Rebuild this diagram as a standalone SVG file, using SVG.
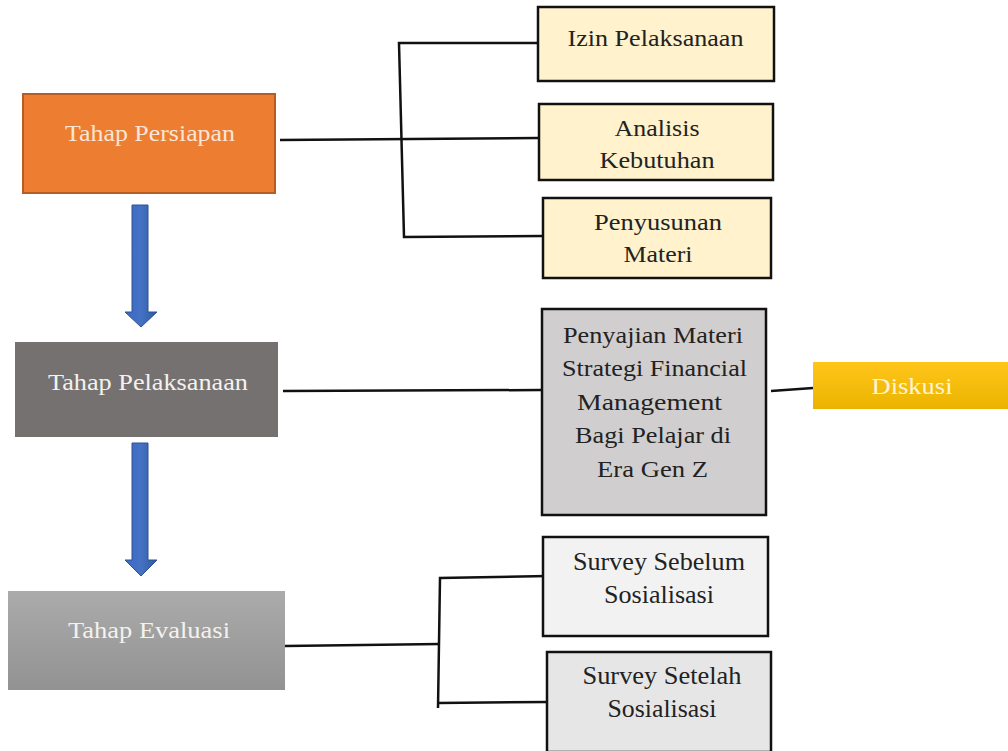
<svg xmlns="http://www.w3.org/2000/svg" width="1008" height="751" viewBox="0 0 1008 751">
<defs>
<style>
text{font-family:"Liberation Serif","Times New Roman",serif;text-anchor:middle}
.dk{font-size:23px;fill:#222}
.sv{font-size:25px;fill:#222}
.lt{font-size:23px;fill:#f4f1ee}
.box{stroke:#111;stroke-width:2.5}
.ln{stroke:#111;stroke-width:2.5;fill:none}
.arr{fill:url(#gArr);stroke:#2f528f;stroke-width:1}
</style>
<linearGradient id="gEval" x1="0" y1="0" x2="0" y2="1">
<stop offset="0" stop-color="#ababab"/><stop offset="1" stop-color="#929292"/>
</linearGradient>
<linearGradient id="gDisk" x1="0" y1="0" x2="0" y2="1">
<stop offset="0" stop-color="#ffc61a"/><stop offset="1" stop-color="#ebb300"/>
</linearGradient>
<linearGradient id="gArr" x1="0" y1="0" x2="1" y2="0">
<stop offset="0" stop-color="#3d69c6"/><stop offset="0.5" stop-color="#4472c4"/><stop offset="1" stop-color="#30589e"/>
</linearGradient>
</defs>
<rect width="1008" height="751" fill="#fff"/>
<g id="connectors">
<polyline class="ln" points="538,43 399,43 404,237 543,236"/>
<line class="ln" x1="280" y1="140" x2="538" y2="138"/>
<line class="ln" x1="283" y1="391" x2="541" y2="390"/>
<line class="ln" x1="771" y1="391" x2="813" y2="388"/>
<polyline class="ln" points="548,576 440,578 438,708"/>
<line class="ln" x1="285" y1="646" x2="440" y2="644"/>
<line class="ln" x1="438" y1="703" x2="548" y2="702"/>
<polygon id="arrow1" class="arr" points="132,205 148,205 148,312 157,312 141,327 125,312 132,312"/>
<polygon id="arrow2" class="arr" points="132,443 148,443 148,560 157,560 141,576 125,560 132,560"/>
</g>
<g id="persiapan">
<rect x="23" y="94" width="252" height="99" fill="#ed7d31" stroke="#b55d22" stroke-width="2"/>
<text class="lt" x="150" y="141" style="fill:#fbe5d6" textLength="170" lengthAdjust="spacingAndGlyphs">Tahap Persiapan</text>
</g>
<g id="pelaksanaan">
<rect x="15" y="342" width="263" height="95" fill="#767171"/>
<text class="lt" x="148" y="390" textLength="200" lengthAdjust="spacingAndGlyphs">Tahap Pelaksanaan</text>
</g>
<g id="evaluasi">
<rect x="8" y="591" width="277" height="99" fill="url(#gEval)"/>
<text class="lt" x="149" y="638" textLength="162" lengthAdjust="spacingAndGlyphs">Tahap Evaluasi</text>
</g>
<g id="izin">
<rect class="box" x="538" y="7" width="236" height="74" fill="#fff2cc"/>
<text class="dk" x="655.5" y="46" textLength="176" lengthAdjust="spacingAndGlyphs">Izin Pelaksanaan</text>
</g>
<g id="analisis">
<rect class="box" x="539" y="104" width="234" height="76" fill="#fff2cc"/>
<text class="dk" x="657" y="136" textLength="85" lengthAdjust="spacingAndGlyphs">Analisis</text>
<text class="dk" x="657" y="168" textLength="115" lengthAdjust="spacingAndGlyphs">Kebutuhan</text>
</g>
<g id="penyusunan">
<rect class="box" x="543" y="198" width="228" height="80" fill="#fff2cc"/>
<text class="dk" x="658" y="230" textLength="128" lengthAdjust="spacingAndGlyphs">Penyusunan</text>
<text class="dk" x="658" y="262" textLength="69" lengthAdjust="spacingAndGlyphs">Materi</text>
</g>
<g id="penyajian">
<rect class="box" x="542" y="309" width="224" height="206" fill="#d0cece"/>
<text class="dk" x="653" y="343" textLength="180" lengthAdjust="spacingAndGlyphs">Penyajian Materi</text>
<text class="dk" x="654.5" y="376" textLength="185" lengthAdjust="spacingAndGlyphs">Strategi Financial</text>
<text class="dk" x="649.5" y="410" textLength="145" lengthAdjust="spacingAndGlyphs">Management</text>
<text class="dk" x="653" y="443" textLength="156" lengthAdjust="spacingAndGlyphs">Bagi Pelajar di</text>
<text class="dk" x="652.5" y="477" textLength="111" lengthAdjust="spacingAndGlyphs">Era Gen Z</text>
</g>
<g id="diskusi">
<rect x="813" y="362" width="195" height="47" fill="url(#gDisk)"/>
<text class="lt" x="912" y="394" style="fill:#fff4d6" textLength="81" lengthAdjust="spacingAndGlyphs">Diskusi</text>
</g>
<g id="sebelum">
<rect class="box" x="543" y="537" width="225" height="99" fill="#f2f2f2"/>
<text class="sv" x="659" y="570" textLength="172" lengthAdjust="spacingAndGlyphs">Survey Sebelum</text>
<text class="sv" x="659" y="603" textLength="110" lengthAdjust="spacingAndGlyphs">Sosialisasi</text>
</g>
<g id="setelah">
<rect class="box" x="547" y="652" width="224" height="100" fill="#e7e6e6"/>
<text class="sv" x="662" y="684" textLength="159" lengthAdjust="spacingAndGlyphs">Survey Setelah</text>
<text class="sv" x="662" y="717" textLength="109" lengthAdjust="spacingAndGlyphs">Sosialisasi</text>
</g>
</svg>
